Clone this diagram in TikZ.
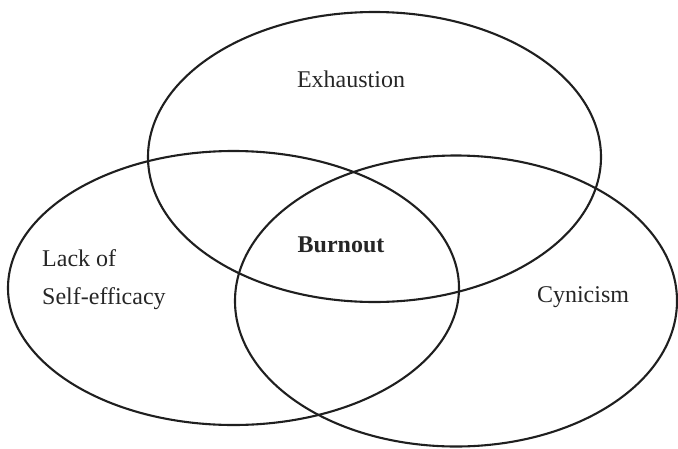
\documentclass[tikz,border=0pt]{standalone}
\usepackage{fontspec}
\setmainfont{Liberation Serif}
\begin{document}
\begin{tikzpicture}[x=1pt,y=-1pt,
  ell/.style={draw=black!88, line width=2.1pt},
  lbl/.style={font=\fontsize{24}{28}\selectfont, inner sep=0pt, text=black!85}]
\useasboundingbox (0,0) rectangle (678,448);
\draw[ell] (374.5,157) ellipse [x radius=226.5, y radius=145];
\draw[ell] (233.5,288) ellipse [x radius=225.5, y radius=137];
\draw[ell] (456,301) ellipse [x radius=221, y radius=145.5];
\node[lbl, anchor=base] (exh) at (351,87) {Exhaustion};
\node[lbl, anchor=base west] (lack) at (42,266) {Lack of};
\node[lbl, anchor=base west] (self) at (42,304) {Self-efficacy};
\node[lbl, anchor=base, font=\fontsize{24}{28}\selectfont\bfseries] (burn) at (341,252) {Burnout};
\node[lbl, anchor=base] (cyn) at (583,302) {Cynicism};
\end{tikzpicture}
\end{document}
